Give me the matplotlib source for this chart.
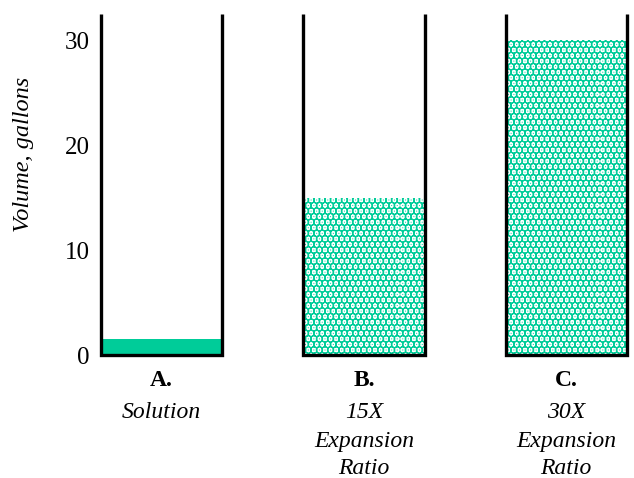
import matplotlib
matplotlib.use("Agg")
import matplotlib.pyplot as plt
import matplotlib.transforms as mtransforms

categories = ["A.", "B.", "C."]
subtitles = [["Solution"], ["15X", "Expansion", "Ratio"], ["30X", "Expansion", "Ratio"]]
volumes = [1.5, 15, 30]
foam = [False, True, True]
yticks = [0, 10, 20, 30]

green = "#00CC99"
plt.rcParams["font.family"] = ["Liberation Serif", "DejaVu Serif"]
plt.rcParams["hatch.linewidth"] = 4.5

fig = plt.figure(figsize=(6.34, 4.78), dpi=100)
ax = fig.add_axes([101/634, (478-355)/478, 526/634, 341/478])
width = 0.6
x = list(range(len(categories)))
for xi, v, f in zip(x, volumes, foam):
    if f:
        ax.bar(xi, v, width=width, color="white", edgecolor=green, hatch="...", linewidth=0)
    else:
        ax.bar(xi, v, width=width, color=green, linewidth=0)
    top = 32.5
    ax.plot([xi - width/2, xi - width/2, xi + width/2, xi + width/2],
            [top, 0, 0, top], color="black", lw=2.4, clip_on=False,
            solid_joinstyle="miter", solid_capstyle="butt", zorder=5)

ax.set_xlim(-0.3, 2.3)
ax.set_ylim(0, 32.5)
for s in ax.spines.values():
    s.set_visible(False)
ax.set_xticks([])
ax.set_yticks(yticks)
ax.tick_params(axis="y", length=0, pad=8, labelsize=18)
ax.set_ylabel("Volume, gallons", fontsize=17.5, style="italic")
ax.yaxis.set_label_coords((34 - 101) / 526, (355 - 154) / 341)

trans = mtransforms.blended_transform_factory(ax.transData, fig.transFigure)
line_y = [412, 441, 468]
for xi, c, s in zip(x, categories, subtitles):
    ax.text(xi, 1 - 380/478, c, transform=trans, ha="center", va="center",
            fontsize=17, fontweight="bold")
    for line, ly in zip(s, line_y):
        ax.text(xi, 1 - ly/478, line, transform=trans, ha="center", va="center",
                fontsize=17, style="italic")

fig.savefig("out.png", dpi=100)
